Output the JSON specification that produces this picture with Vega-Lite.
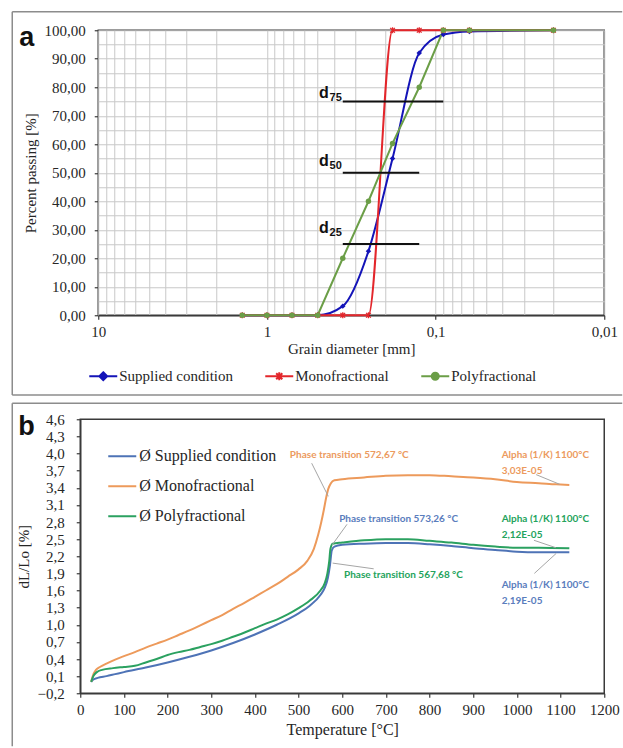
{
  "$schema": "https://vega.github.io/schema/vega-lite/v6.json",
  "background": "white",
  "padding": {"left": 10.25, "top": 10.25, "right": 0, "bottom": 0},
  "spacing": 5,
  "resolve": {"scale": {"x": "independent", "y": "independent", "color": "independent"}, "legend": {"color": "independent"}},
  "config": {
    "view": {"stroke": "#3a3a3a", "strokeWidth": 1.5},
    "axis": {"labelFont": "Liberation Serif", "titleFont": "Liberation Serif", "labelFontSize": 15, "titleFontSize": 15, "titleFontWeight": "normal", "labelColor": "#262626", "titleColor": "#262626", "domainColor": "#3a3a3a", "tickColor": "#3a3a3a", "domainWidth": 1.5, "tickWidth": 1.2, "labelFlush": false, "labelOverlap": false}
  },
  "vconcat": [
    {"hconcat": [
    {
      "width": 18,
      "height": 285,
      "view": {"stroke": null},
      "data": {"values": [{"panel": "a"}]},
      "layer": [
        {"mark": {"type": "rule", "color": "#8c8c8c", "strokeWidth": 1.5},
         "encoding": {
           "x": {"datum": -3.778, "type": "quantitative", "scale": {"domain": [0, 1], "nice": false, "zero": false}, "axis": null},
           "y": {"datum": 106.48, "type": "quantitative", "scale": {"domain": [0, 100], "nice": false, "zero": false},
             "axis": {"orient": "left", "offset": -18, "title": "Percent passing [%]", "labelFont": "Liberation Serif", "titleFont": "Liberation Serif", "labelOverlap": false, "tickCount": 100,
               "values": [0,10,20,30,40,50,60,70,80,90,100],
               "labelExpr": "replace(format(datum.value, '.2f'), '.', ',')",
               "tickSize": 4, "labelPadding": 9, "titlePadding": 6, "grid": false, "domain": false}},
           "y2": {"datum": -28.02}}},
        {"mark": {"type": "rule", "color": "#8c8c8c", "strokeWidth": 1.5},
         "encoding": {"x": {"datum": -3.778, "type": "quantitative"}, "x2": {"datum": 30.11}, "y": {"datum": 106.48, "type": "quantitative"}}},
        {"mark": {"type": "rule", "color": "#8c8c8c", "strokeWidth": 1.5},
         "encoding": {"x": {"datum": -3.778, "type": "quantitative"}, "x2": {"datum": 30.11}, "y": {"datum": -28.02, "type": "quantitative"}}},
        {"mark": {"type": "text", "align": "left", "baseline": "alphabetic", "font": "Liberation Sans", "fontWeight": "bold", "fontSize": 27, "color": "#111111"},
         "encoding": {"x": {"datum": -3.389, "type": "quantitative"}, "y": {"datum": 94.56, "type": "quantitative"}, "text": {"field": "panel"}}}
      ]
    },
    {
      "width": 506,
      "height": 285,
      "data": {"values": [
        {"series": "Supplied condition", "d": 1.4, "p": 0},
        {"series": "Supplied condition", "d": 1.0, "p": 0},
        {"series": "Supplied condition", "d": 0.71, "p": 0},
        {"series": "Supplied condition", "d": 0.5, "p": 0},
        {"series": "Supplied condition", "d": 0.355, "p": 3.2},
        {"series": "Supplied condition", "d": 0.25, "p": 22.5},
        {"series": "Supplied condition", "d": 0.18, "p": 55},
        {"series": "Supplied condition", "d": 0.125, "p": 92},
        {"series": "Supplied condition", "d": 0.09, "p": 98.5},
        {"series": "Supplied condition", "d": 0.063, "p": 99.6},
        {"series": "Supplied condition", "d": 0.02, "p": 100},
        {"series": "Monofractional", "d": 1.4, "p": 0},
        {"series": "Monofractional", "d": 1.0, "p": 0},
        {"series": "Monofractional", "d": 0.71, "p": 0},
        {"series": "Monofractional", "d": 0.5, "p": 0},
        {"series": "Monofractional", "d": 0.355, "p": 0},
        {"series": "Monofractional", "d": 0.25, "p": 0},
        {"series": "Monofractional", "d": 0.18, "p": 100},
        {"series": "Monofractional", "d": 0.125, "p": 100},
        {"series": "Monofractional", "d": 0.09, "p": 100},
        {"series": "Monofractional", "d": 0.063, "p": 100},
        {"series": "Monofractional", "d": 0.02, "p": 100},
        {"series": "Polyfractional", "d": 1.4, "p": 0},
        {"series": "Polyfractional", "d": 1.0, "p": 0},
        {"series": "Polyfractional", "d": 0.71, "p": 0},
        {"series": "Polyfractional", "d": 0.5, "p": 0},
        {"series": "Polyfractional", "d": 0.355, "p": 20},
        {"series": "Polyfractional", "d": 0.25, "p": 40},
        {"series": "Polyfractional", "d": 0.18, "p": 60.3},
        {"series": "Polyfractional", "d": 0.125, "p": 80},
        {"series": "Polyfractional", "d": 0.09, "p": 100},
        {"series": "Polyfractional", "d": 0.063, "p": 100},
        {"series": "Polyfractional", "d": 0.02, "p": 100}
      ]},
      "layer": [
        {
          "transform": [{"filter": "datum.series == 'Supplied condition'"}],
          "mark": {"type": "line", "interpolate": "monotone", "strokeWidth": 2},
          "encoding": {
            "x": {"field": "d", "type": "quantitative", "scale": {"type": "log", "domain": [0.01, 10], "reverse": true, "nice": false},
              "axis": {"title": "Grain diameter [mm]", "labelFont": "Liberation Serif", "titleFont": "Liberation Serif", "labelOverlap": false, "tickCount": 100, "values": [0.01,0.02,0.03,0.04,0.05,0.06,0.07,0.08,0.09,0.1,0.2,0.3,0.4,0.5,0.6,0.7,0.8,0.9,1,2,3,4,5,6,7,8,9,10],
                "labelExpr": "datum.value == 10 ? '10' : datum.value == 1 ? '1' : datum.value == 0.1 ? '0,1' : datum.value == 0.01 ? '0,01' : ''",
                "tickOpacity": {"condition": {"test": "datum.value == 10 || datum.value == 1 || datum.value == 0.1 || datum.value == 0.01", "value": 1}, "value": 0},
                "tickSize": 4, "labelPadding": 5, "titlePadding": 2, "grid": true, "gridColor": "#c8c8c8", "gridWidth": 1}},
            "y": {"field": "p", "type": "quantitative", "scale": {"domain": [0, 100], "nice": false, "zero": false},
              "axis": {"title": null, "labels": false, "ticks": false, "domain": false, "tickCount": 100, "values": [0,5,10,15,20,25,30,35,40,45,50,55,60,65,70,75,80,85,90,95,100],
                "grid": true, "gridColor": "#c8c8c8", "gridWidth": 1}},
            "color": {"field": "series", "type": "nominal",
              "scale": {"domain": ["Supplied condition", "Monofractional", "Polyfractional"], "range": ["#1414b8", "#e3262b", "#6b9e47"]},
              "legend": {"orient": "none", "legendX": 13, "legendY": 336, "direction": "horizontal", "title": null, "padding": 0,
                "labelFont": "Liberation Serif", "labelFontSize": 15, "labelColor": "#262626", "symbolSize": 306, "symbolStrokeWidth": 2,
                "columnPadding": 28, "labelOffset": 6,
                "encode": {"symbols": {"update": {
                  "shape": {"signal": "datum.value === 'Supplied condition' ? 'M-1.6,0H1.6M0,-0.45L0.45,0L0,0.45L-0.45,0Z' : datum.value === 'Monofractional' ? 'M-1.6,0H1.6M-0.35,-0.35L0.35,0.35M-0.35,0.35L0.35,-0.35M0,-0.45V0.45' : 'M-1.6,0H1.6M0.4,0A0.4,0.4 0 1,1 -0.4,0A0.4,0.4 0 1,1 0.4,0Z'"},
                  "fill": {"signal": "datum.value === 'Supplied condition' ? '#1414b8' : datum.value === 'Monofractional' ? 'transparent' : '#6b9e47'"},
                  "stroke": {"signal": "datum.value === 'Supplied condition' ? '#1414b8' : datum.value === 'Monofractional' ? '#e3262b' : '#6b9e47'"},
                  "strokeWidth": {"value": 2}
                }}}}},
            "order": {"field": "d", "sort": "descending"}
          }
        },
        {
          "transform": [{"filter": "datum.series == 'Monofractional'"}],
          "mark": {"type": "line", "interpolate": "monotone", "strokeWidth": 2},
          "encoding": {
            "x": {"field": "d", "type": "quantitative"},
            "y": {"field": "p", "type": "quantitative"},
            "color": {"field": "series", "type": "nominal"},
            "order": {"field": "d", "sort": "descending"}
          }
        },
        {
          "transform": [{"filter": "datum.series == 'Polyfractional'"}],
          "mark": {"type": "line", "strokeWidth": 2},
          "encoding": {
            "x": {"field": "d", "type": "quantitative"},
            "y": {"field": "p", "type": "quantitative"},
            "color": {"field": "series", "type": "nominal"},
            "order": {"field": "d", "sort": "descending"}
          }
        },
        {
          "transform": [{"filter": "datum.series == 'Supplied condition'"}],
          "mark": {"type": "point", "shape": "diamond", "filled": true, "size": 30, "color": "#1414b8", "opacity": 1},
          "encoding": {"x": {"field": "d", "type": "quantitative"}, "y": {"field": "p", "type": "quantitative"}}
        },
        {
          "transform": [{"filter": "datum.series == 'Monofractional'"}],
          "mark": {"type": "point", "shape": "M-1,-1L1,1M-1,1L1,-1M0,-1.3V1.3", "filled": false, "size": 22, "strokeWidth": 1.3, "color": "#e3262b", "opacity": 1},
          "encoding": {"x": {"field": "d", "type": "quantitative"}, "y": {"field": "p", "type": "quantitative"}}
        },
        {
          "transform": [{"filter": "datum.series == 'Polyfractional'"}],
          "mark": {"type": "point", "shape": "circle", "filled": true, "size": 30, "color": "#6b9e47", "opacity": 1},
          "encoding": {"x": {"field": "d", "type": "quantitative"}, "y": {"field": "p", "type": "quantitative"}}
        },
        {
          "data": {"values": [
            {"lab": "75", "p": 75, "from": 0.355, "to": 0.09, "ty": 76.2},
            {"lab": "50", "p": 50, "from": 0.355, "to": 0.125, "ty": 52.4},
            {"lab": "25", "p": 25, "from": 0.355, "to": 0.125, "ty": 28.8}
          ]},
          "layer": [
            {"mark": {"type": "rule", "color": "#111111", "strokeWidth": 2},
             "encoding": {"x": {"field": "from", "type": "quantitative"}, "x2": {"field": "to"}, "y": {"field": "p", "type": "quantitative"}}},
            {"mark": {"type": "text", "text": "d", "align": "right", "baseline": "alphabetic", "dx": -14, "font": "Liberation Sans", "fontWeight": "bold", "fontSize": 16, "color": "#111111"},
             "encoding": {"x": {"field": "from", "type": "quantitative"}, "y": {"field": "ty", "type": "quantitative"}}},
            {"mark": {"type": "text", "align": "right", "baseline": "alphabetic", "dx": -1, "dy": 3, "font": "Liberation Sans", "fontWeight": "bold", "fontSize": 11, "color": "#111111"},
             "encoding": {"x": {"field": "from", "type": "quantitative"}, "y": {"field": "ty", "type": "quantitative"}, "text": {"field": "lab"}}}
          ]
        }
      ]
    }
    ], "spacing": 0, "bounds": "flush", "resolve": {"scale": {"x": "independent", "y": "independent"}}},
    {
      "width": 524,
      "height": 274,
      "layer": [
        {
          "data": {"values": [
            {"series": "Supplied condition", "T": 25, "v": 0.00}, {"series": "Supplied condition", "T": 30, "v": 0.04}, {"series": "Supplied condition", "T": 40, "v": 0.07}, {"series": "Supplied condition", "T": 60, "v": 0.10}, {"series": "Supplied condition", "T": 80, "v": 0.135}, {"series": "Supplied condition", "T": 100, "v": 0.17}, {"series": "Supplied condition", "T": 150, "v": 0.25}, {"series": "Supplied condition", "T": 200, "v": 0.34}, {"series": "Supplied condition", "T": 250, "v": 0.44}, {"series": "Supplied condition", "T": 300, "v": 0.55}, {"series": "Supplied condition", "T": 350, "v": 0.68}, {"series": "Supplied condition", "T": 400, "v": 0.83}, {"series": "Supplied condition", "T": 450, "v": 1.00}, {"series": "Supplied condition", "T": 500, "v": 1.20}, {"series": "Supplied condition", "T": 525, "v": 1.33}, {"series": "Supplied condition", "T": 550, "v": 1.52}, {"series": "Supplied condition", "T": 560, "v": 1.65}, {"series": "Supplied condition", "T": 567, "v": 1.82}, {"series": "Supplied condition", "T": 572, "v": 2.05}, {"series": "Supplied condition", "T": 576, "v": 2.30}, {"series": "Supplied condition", "T": 582, "v": 2.37}, {"series": "Supplied condition", "T": 600, "v": 2.40}, {"series": "Supplied condition", "T": 650, "v": 2.42}, {"series": "Supplied condition", "T": 700, "v": 2.43}, {"series": "Supplied condition", "T": 750, "v": 2.43}, {"series": "Supplied condition", "T": 800, "v": 2.41}, {"series": "Supplied condition", "T": 850, "v": 2.38}, {"series": "Supplied condition", "T": 900, "v": 2.34}, {"series": "Supplied condition", "T": 950, "v": 2.31}, {"series": "Supplied condition", "T": 1000, "v": 2.28}, {"series": "Supplied condition", "T": 1050, "v": 2.27}, {"series": "Supplied condition", "T": 1120, "v": 2.27},
            {"series": "Monofractional", "T": 25, "v": 0.00}, {"series": "Monofractional", "T": 30, "v": 0.13}, {"series": "Monofractional", "T": 36, "v": 0.21}, {"series": "Monofractional", "T": 45, "v": 0.26}, {"series": "Monofractional", "T": 60, "v": 0.32}, {"series": "Monofractional", "T": 80, "v": 0.39}, {"series": "Monofractional", "T": 100, "v": 0.45}, {"series": "Monofractional", "T": 125, "v": 0.52}, {"series": "Monofractional", "T": 150, "v": 0.60}, {"series": "Monofractional", "T": 175, "v": 0.67}, {"series": "Monofractional", "T": 200, "v": 0.74}, {"series": "Monofractional", "T": 225, "v": 0.82}, {"series": "Monofractional", "T": 250, "v": 0.90}, {"series": "Monofractional", "T": 275, "v": 0.99}, {"series": "Monofractional", "T": 300, "v": 1.08}, {"series": "Monofractional", "T": 325, "v": 1.17}, {"series": "Monofractional", "T": 350, "v": 1.28}, {"series": "Monofractional", "T": 375, "v": 1.38}, {"series": "Monofractional", "T": 400, "v": 1.49}, {"series": "Monofractional", "T": 425, "v": 1.60}, {"series": "Monofractional", "T": 450, "v": 1.71}, {"series": "Monofractional", "T": 475, "v": 1.84}, {"series": "Monofractional", "T": 500, "v": 1.97}, {"series": "Monofractional", "T": 520, "v": 2.12}, {"series": "Monofractional", "T": 535, "v": 2.33}, {"series": "Monofractional", "T": 545, "v": 2.58}, {"series": "Monofractional", "T": 552, "v": 2.80}, {"series": "Monofractional", "T": 558, "v": 3.02}, {"series": "Monofractional", "T": 563, "v": 3.22}, {"series": "Monofractional", "T": 568, "v": 3.38}, {"series": "Monofractional", "T": 574, "v": 3.48}, {"series": "Monofractional", "T": 582, "v": 3.53}, {"series": "Monofractional", "T": 600, "v": 3.55}, {"series": "Monofractional", "T": 650, "v": 3.58}, {"series": "Monofractional", "T": 700, "v": 3.61}, {"series": "Monofractional", "T": 750, "v": 3.62}, {"series": "Monofractional", "T": 800, "v": 3.62}, {"series": "Monofractional", "T": 850, "v": 3.60}, {"series": "Monofractional", "T": 900, "v": 3.58}, {"series": "Monofractional", "T": 950, "v": 3.55}, {"series": "Monofractional", "T": 1000, "v": 3.50}, {"series": "Monofractional", "T": 1050, "v": 3.48}, {"series": "Monofractional", "T": 1090, "v": 3.46}, {"series": "Monofractional", "T": 1120, "v": 3.45},
            {"series": "Polyfractional", "T": 25, "v": 0.00}, {"series": "Polyfractional", "T": 30, "v": 0.10}, {"series": "Polyfractional", "T": 38, "v": 0.17}, {"series": "Polyfractional", "T": 50, "v": 0.21}, {"series": "Polyfractional", "T": 75, "v": 0.24}, {"series": "Polyfractional", "T": 100, "v": 0.26}, {"series": "Polyfractional", "T": 125, "v": 0.28}, {"series": "Polyfractional", "T": 150, "v": 0.34}, {"series": "Polyfractional", "T": 175, "v": 0.40}, {"series": "Polyfractional", "T": 200, "v": 0.47}, {"series": "Polyfractional", "T": 225, "v": 0.52}, {"series": "Polyfractional", "T": 250, "v": 0.56}, {"series": "Polyfractional", "T": 275, "v": 0.61}, {"series": "Polyfractional", "T": 300, "v": 0.66}, {"series": "Polyfractional", "T": 325, "v": 0.72}, {"series": "Polyfractional", "T": 350, "v": 0.79}, {"series": "Polyfractional", "T": 375, "v": 0.86}, {"series": "Polyfractional", "T": 400, "v": 0.94}, {"series": "Polyfractional", "T": 425, "v": 1.02}, {"series": "Polyfractional", "T": 450, "v": 1.09}, {"series": "Polyfractional", "T": 475, "v": 1.18}, {"series": "Polyfractional", "T": 500, "v": 1.29}, {"series": "Polyfractional", "T": 525, "v": 1.42}, {"series": "Polyfractional", "T": 550, "v": 1.60}, {"series": "Polyfractional", "T": 560, "v": 1.73}, {"series": "Polyfractional", "T": 566, "v": 1.90}, {"series": "Polyfractional", "T": 570, "v": 2.10}, {"series": "Polyfractional", "T": 573, "v": 2.33}, {"series": "Polyfractional", "T": 578, "v": 2.42}, {"series": "Polyfractional", "T": 600, "v": 2.44}, {"series": "Polyfractional", "T": 650, "v": 2.48}, {"series": "Polyfractional", "T": 700, "v": 2.50}, {"series": "Polyfractional", "T": 750, "v": 2.50}, {"series": "Polyfractional", "T": 800, "v": 2.47}, {"series": "Polyfractional", "T": 850, "v": 2.44}, {"series": "Polyfractional", "T": 900, "v": 2.40}, {"series": "Polyfractional", "T": 950, "v": 2.37}, {"series": "Polyfractional", "T": 1000, "v": 2.35}, {"series": "Polyfractional", "T": 1050, "v": 2.35}, {"series": "Polyfractional", "T": 1120, "v": 2.34}
          ]},
          "mark": {"type": "line", "interpolate": "monotone", "strokeWidth": 2},
          "encoding": {
            "x": {"field": "T", "type": "quantitative", "scale": {"domain": [0, 1200], "nice": false},
              "axis": {"title": "Temperature [°C]", "labelFont": "Liberation Serif", "titleFont": "Liberation Serif", "labelOverlap": false, "tickCount": 100, "titleFontSize": 16, "values": [0,100,200,300,400,500,600,700,800,900,1000,1100,1200], "format": "d", "grid": false, "tickSize": 4, "labelPadding": 5, "titlePadding": 4}},
            "y": {"field": "v", "type": "quantitative", "scale": {"domain": [-0.2, 4.6], "nice": false, "zero": false},
              "axis": {"title": "dL/Lo [%]", "labelFont": "Liberation Serif", "titleFont": "Liberation Serif", "labelOverlap": false, "tickCount": 100, "values": [-0.2,0.1,0.4,0.7,1.0,1.3,1.6,1.9,2.2,2.5,2.8,3.1,3.4,3.7,4.0,4.3,4.6], "labelExpr": "replace(format(datum.value, '.1f'), '.', ',')", "grid": false, "tickSize": 4, "labelPadding": 12, "titlePadding": 6}},
            "color": {"field": "series", "type": "nominal",
              "scale": {"domain": ["Supplied condition", "Monofractional", "Polyfractional"], "range": ["#4e73b6", "#ed9a5b", "#2ba160"]},
              "legend": {"orient": "none", "legendX": 27, "legendY": 22, "title": null, "padding": 0, "symbolType": "stroke", "symbolSize": 784, "symbolStrokeWidth": 2,
                "labelFont": "Liberation Serif", "labelFontSize": 16, "labelColor": "#262626", "labelExpr": "'Ø ' + datum.label", "rowPadding": 7, "labelOffset": 2}}
          }
        },
        {
          "data": {"values": [
            {"x": 530, "y": 3.83, "x2": 568, "y2": 3.25},
            {"x": 1044, "y": 3.63, "x2": 1098, "y2": 3.46},
            {"x": 611, "y": 2.76, "x2": 577, "y2": 2.40},
            {"x": 1039, "y": 2.48, "x2": 1089, "y2": 2.35},
            {"x": 578, "y": 2.08, "x2": 672, "y2": 1.98},
            {"x": 1040, "y": 1.9, "x2": 1090, "y2": 2.25}
          ]},
          "mark": {"type": "rule", "color": "#a6a6a6", "strokeWidth": 1},
          "encoding": {"x": {"field": "x", "type": "quantitative"}, "y": {"field": "y", "type": "quantitative"}, "x2": {"field": "x2"}, "y2": {"field": "y2"}}
        },
        {
          "data": {"values": [
            {"t": "Phase transition 572,67 °C", "x": 480, "y": 3.97, "s": "Monofractional"},
            {"t": "Alpha (1/K) 1100°C", "x": 965, "y": 3.97, "s": "Monofractional"},
            {"t": "3,03E-05", "x": 965, "y": 3.70, "s": "Monofractional"},
            {"t": "Phase transition 573,26 °C", "x": 593, "y": 2.85, "s": "Supplied condition"},
            {"t": "Alpha (1/K) 1100°C", "x": 965, "y": 1.705, "s": "Supplied condition"},
            {"t": "2,19E-05", "x": 965, "y": 1.41, "s": "Supplied condition"},
            {"t": "Phase transition 567,68 °C", "x": 604, "y": 1.88, "s": "Polyfractional"},
            {"t": "Alpha (1/K) 1100°C", "x": 965, "y": 2.85, "s": "Polyfractional"},
            {"t": "2,12E-05", "x": 965, "y": 2.57, "s": "Polyfractional"}
          ]},
          "layer": [
            {"transform": [{"filter": "datum.s == 'Monofractional'"}],
             "mark": {"type": "text", "align": "left", "baseline": "middle", "font": "Lato", "fontWeight": "bold", "fontSize": 10, "color": "#ec9a5e"},
             "encoding": {"x": {"field": "x", "type": "quantitative"}, "y": {"field": "y", "type": "quantitative"}, "text": {"field": "t"}}},
            {"transform": [{"filter": "datum.s == 'Supplied condition'"}],
             "mark": {"type": "text", "align": "left", "baseline": "middle", "font": "Lato", "fontWeight": "bold", "fontSize": 10, "color": "#5a7dbd"},
             "encoding": {"x": {"field": "x", "type": "quantitative"}, "y": {"field": "y", "type": "quantitative"}, "text": {"field": "t"}}},
            {"transform": [{"filter": "datum.s == 'Polyfractional'"}],
             "mark": {"type": "text", "align": "left", "baseline": "middle", "font": "Lato", "fontWeight": "bold", "fontSize": 10, "color": "#24a35c"},
             "encoding": {"x": {"field": "x", "type": "quantitative"}, "y": {"field": "y", "type": "quantitative"}, "text": {"field": "t"}}}
          ]
        },
        {
          "data": {"values": [{"panel": "b"}]},
          "layer": [
            {"mark": {"type": "rule", "color": "#8c8c8c", "strokeWidth": 1.5},
             "encoding": {"x": {"datum": -155.7, "type": "quantitative"}, "y": {"datum": 4.88, "type": "quantitative"}, "y2": {"datum": -1.13}}},
            {"mark": {"type": "rule", "color": "#8c8c8c", "strokeWidth": 1.5},
             "encoding": {"x": {"datum": -155.7, "type": "quantitative"}, "x2": {"datum": 1241.2}, "y": {"datum": 4.88, "type": "quantitative"}}},
            {"mark": {"type": "text", "align": "left", "baseline": "alphabetic", "font": "Liberation Sans", "fontWeight": "bold", "fontSize": 27, "color": "#111111"},
             "encoding": {"x": {"datum": -142, "type": "quantitative"}, "y": {"datum": 4.318, "type": "quantitative"}, "text": {"field": "panel"}}}
          ]
        }
      ]
    }
  ]
}
